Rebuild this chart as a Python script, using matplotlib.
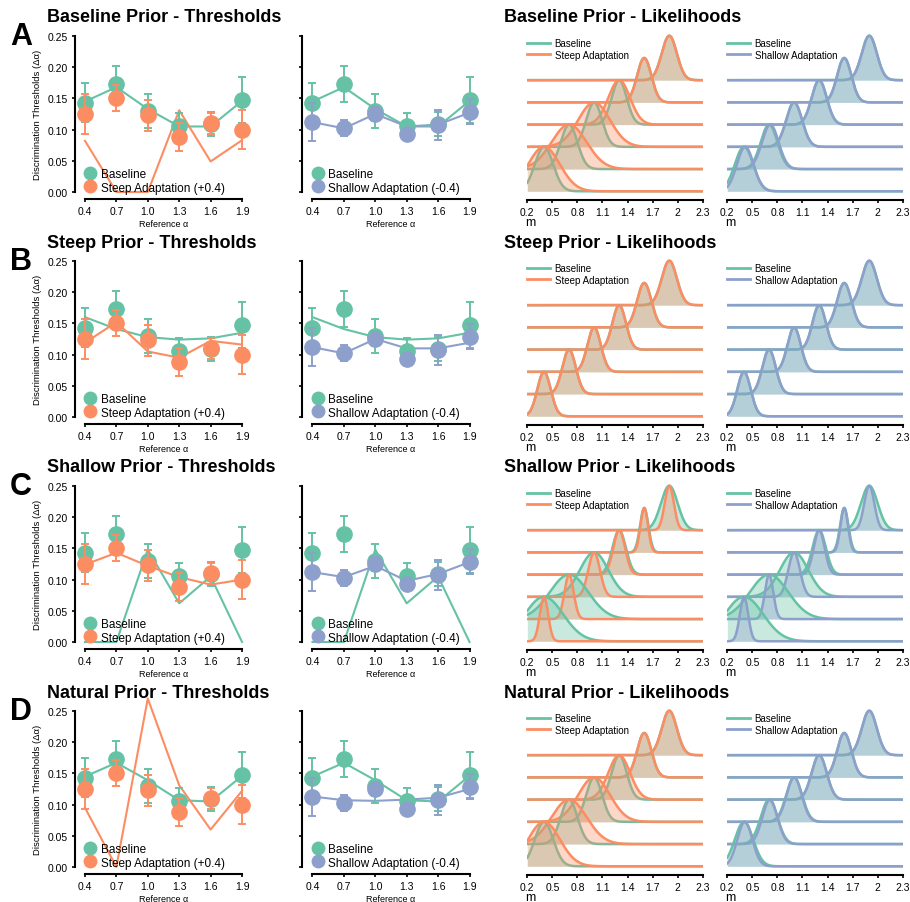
import numpy as np
import matplotlib
matplotlib.use('Agg')
import matplotlib.pyplot as plt
from matplotlib.lines import Line2D

plt.rcParams['font.family'] = ['Liberation Sans', 'DejaVu Sans']

W, H = 910, 903
green = '#66c2a5'
orange = '#fc8d62'
blue = '#8da0cb'

refs = [0.4, 0.7, 1.0, 1.3, 1.6, 1.9]
ref_labels = ['0.4', '0.7', '1.0', '1.3', '1.6', '1.9']

# measured thresholds (same in every row)
base_thr = [0.143, 0.173, 0.130, 0.105, 0.109, 0.147]
base_err = [0.031, 0.029, 0.027, 0.021, 0.019, 0.037]
steep_thr = [0.125, 0.151, 0.123, 0.088, 0.110, 0.100]
steep_err = [0.032, 0.021, 0.025, 0.022, 0.017, 0.031]
shallow_thr = [0.112, 0.102, 0.125, 0.093, 0.108, 0.129]
shallow_err = [0.031, 0.013, 0.012, 0.009, 0.024, 0.020]

row_titles = ['Baseline Prior', 'Steep Prior', 'Shallow Prior', 'Natural Prior']
row_letters = ['A', 'B', 'C', 'D']

# model predicted thresholds per prior
base_model = [[0.145, 0.168, 0.133, 0.105, 0.105, 0.146],
              [0.160, 0.141, 0.128, 0.124, 0.126, 0.135],
              [0.0, 0.0, 0.148, 0.062, 0.105, 0.0],
              [0.145, 0.167, 0.139, 0.107, 0.105, 0.146]]
steep_model = [[0.082, 0.0, 0.0, 0.131, 0.049, 0.083],
               [0.119, 0.152, 0.105, 0.095, 0.122, 0.116],
               [0.124, 0.143, 0.122, 0.104, 0.092, 0.100],
               [0.095, 0.0, 0.270, 0.131, 0.060, 0.122]]
shallow_model = [[0.112, 0.102, 0.125, 0.105, 0.108, 0.127],
                 [0.112, 0.102, 0.125, 0.110, 0.110, 0.119],
                 [0.112, 0.104, 0.122, 0.098, 0.109, 0.128],
                 [0.113, 0.107, 0.106, 0.108, 0.111, 0.125]]

# likelihood widths (sd) and centres
base_sig = [[0.11, 0.10, 0.095, 0.09, 0.085, 0.09],
            [0.08, 0.08, 0.08, 0.08, 0.085, 0.09],
            [0.23, 0.23, 0.17, 0.08, 0.05, 0.10],
            [0.11, 0.10, 0.095, 0.09, 0.085, 0.09]]
steep_sig = [[0.19, 0.21, 0.19, 0.13, 0.085, 0.09],
             [0.08, 0.08, 0.08, 0.08, 0.085, 0.09],
             [0.05, 0.055, 0.07, 0.07, 0.045, 0.055],
             [0.19, 0.21, 0.19, 0.13, 0.085, 0.09]]
shallow_sig = [[0.10, 0.10, 0.095, 0.09, 0.085, 0.09],
               [0.08, 0.08, 0.08, 0.08, 0.085, 0.09],
               [0.05, 0.05, 0.07, 0.065, 0.045, 0.06],
               [0.09, 0.09, 0.09, 0.09, 0.085, 0.09]]
shallow_mu = [[0.415, 0.715, 1.0, 1.3, 1.6, 1.9],
              [0.4, 0.7, 1.0, 1.3, 1.6, 1.9],
              [0.4, 0.7, 1.0, 1.3, 1.6, 1.9],
              [0.41, 0.71, 1.0, 1.3, 1.6, 1.9]]

lik_ticks = [0.2, 0.5, 0.8, 1.1, 1.4, 1.7, 2.0, 2.3]
lik_labels = ['0.2', '0.5', '0.8', '1.1', '1.4', '1.7', '2', '2.3']

fig = plt.figure(figsize=(W / 100, H / 100), dpi=100)


def px_axes(left, top, width, height):
    return fig.add_axes([left / W, 1 - (top + height) / H, width / W, height / H])


def thr_panel(ax, model_b, model_a, a_thr, a_err, a_col, a_label, show_y):
    # spines first: set_position resets the ticks
    for s in ['top', 'right']:
        ax.spines[s].set_visible(False)
    ax.spines['bottom'].set_position(('outward', 5))
    ax.spines['bottom'].set_bounds(0.4, 1.9)
    ax.spines['bottom'].set_linewidth(1.5)
    ax.spines['left'].set_linewidth(1.5)

    ax.plot(refs, model_b, color=green, lw=1.5, clip_on=False, zorder=2)
    ax.plot(refs, model_a, color=a_col, lw=1.5, clip_on=False, zorder=2)
    ax.errorbar(refs, base_thr, yerr=base_err, fmt='o', color=green, ms=11,
                elinewidth=1.4, capsize=3, capthick=1.4, zorder=3)
    ax.errorbar(refs, a_thr, yerr=a_err, fmt='o', color=a_col, ms=11,
                elinewidth=1.4, capsize=3, capthick=1.4, zorder=4)
    ax.set_xlim(0.3, 2.0)
    ax.set_ylim(0, 0.25)
    ax.set_xticks(refs)
    ax.set_xticklabels(ref_labels)
    ax.set_yticks([0, 0.05, 0.1, 0.15, 0.2, 0.25])
    if show_y:
        ax.set_yticklabels(['0.00', '0.05', '0.10', '0.15', '0.20', '0.25'])
        ax.set_ylabel('Discrimination Thresholds (Δα)', fontsize=6.8, labelpad=4)
    else:
        ax.set_yticklabels([])
    ax.set_xlabel('Reference α', fontsize=6.5, labelpad=2)
    ax.tick_params(length=2.5, width=1.2, pad=2.5, labelsize=7.5)
    ax.patch.set_visible(False)
    handles = [Line2D([], [], marker='o', ls='', color=green, ms=9),
               Line2D([], [], marker='o', ls='', color=a_col, ms=9)]
    ax.legend(handles, ['Baseline', a_label], loc='lower left', bbox_to_anchor=(0.055, -0.01),
              frameon=False, fontsize=8.5, handlelength=1.0, handletextpad=0.4,
              labelspacing=0.15, borderpad=0, borderaxespad=0)


def gauss(x, mu, s):
    return np.exp(-0.5 * ((x - mu) / s) ** 2)


def lik_panel(ax, b_sig, a_mu, a_sig, a_col, a_label):
    for s in ['top', 'right', 'left']:
        ax.spines[s].set_visible(False)
    ax.spines['bottom'].set_position(('outward', 5))
    ax.spines['bottom'].set_linewidth(1.5)

    x = np.linspace(0.2, 2.3, 500)
    peak = 2.0
    # top ridge first, lower ridges overlap it
    for i in reversed(range(6)):
        z = 2 + (5 - i) * 4
        yb = i + peak * gauss(x, refs[i], b_sig[i])
        ya = i + peak * gauss(x, a_mu[i], a_sig[i])
        ax.fill_between(x, i, yb, color=green, alpha=0.35, lw=0, zorder=z)
        ax.plot(x, yb, color=green, lw=1.8, zorder=z + 1)
        ax.fill_between(x, i, ya, color=a_col, alpha=0.35, lw=0, zorder=z + 2)
        ax.plot(x, ya, color=a_col, lw=1.8, zorder=z + 3)
    ax.set_xlim(0.2, 2.3)
    ax.set_ylim(-0.1, 7.1)
    ax.set_yticks([])
    ax.set_xticks(lik_ticks)
    ax.set_xticklabels(lik_labels)
    ax.tick_params(length=2.5, width=1.2, pad=2.5, labelsize=7.5)
    ax.set_xlabel('m', fontsize=9, loc='left', labelpad=0)
    ax.xaxis.set_label_coords(-0.01, -0.14)
    ax.patch.set_visible(False)
    handles = [Line2D([], [], color=green, lw=2), Line2D([], [], color=a_col, lw=2)]
    ax.legend(handles, ['Baseline', a_label], loc='upper left', bbox_to_anchor=(0.0, 0.97),
              frameon=False, fontsize=7, handlelength=2.3, handletextpad=0.5,
              labelspacing=0.15, borderpad=0, borderaxespad=0)


for r in range(4):
    dy = 225 * r
    ax1 = px_axes(74.5, 37 + dy, 178, 156)
    thr_panel(ax1, base_model[r], steep_model[r], steep_thr, steep_err, orange,
              'Steep Adaptation (+0.4)', True)
    ax2 = px_axes(302, 37 + dy, 178, 156)
    thr_panel(ax2, base_model[r], shallow_model[r], shallow_thr, shallow_err, blue,
              'Shallow Adaptation (-0.4)', False)

    ax3 = px_axes(527.3, 34.5 + dy, 175.4, 160)
    lik_panel(ax3, base_sig[r], refs, steep_sig[r], orange, 'Steep Adaptation')
    ax4 = px_axes(727.3, 34.5 + dy, 175.4, 160)
    lik_panel(ax4, base_sig[r], shallow_mu[r], shallow_sig[r], blue, 'Shallow Adaptation')

    fig.text(47 / W, 1 - (18 + dy) / H, row_titles[r] + ' - Thresholds', fontsize=13,
             fontweight='bold', va='center', ha='left')
    fig.text(504 / W, 1 - (18 + dy) / H, row_titles[r] + ' - Likelihoods', fontsize=13,
             fontweight='bold', va='center', ha='left')
    fig.text(10 / W, 1 - (37 + dy) / H, row_letters[r], fontsize=22,
             fontweight='bold', va='center', ha='left')

fig.savefig('out.png', dpi=100)
